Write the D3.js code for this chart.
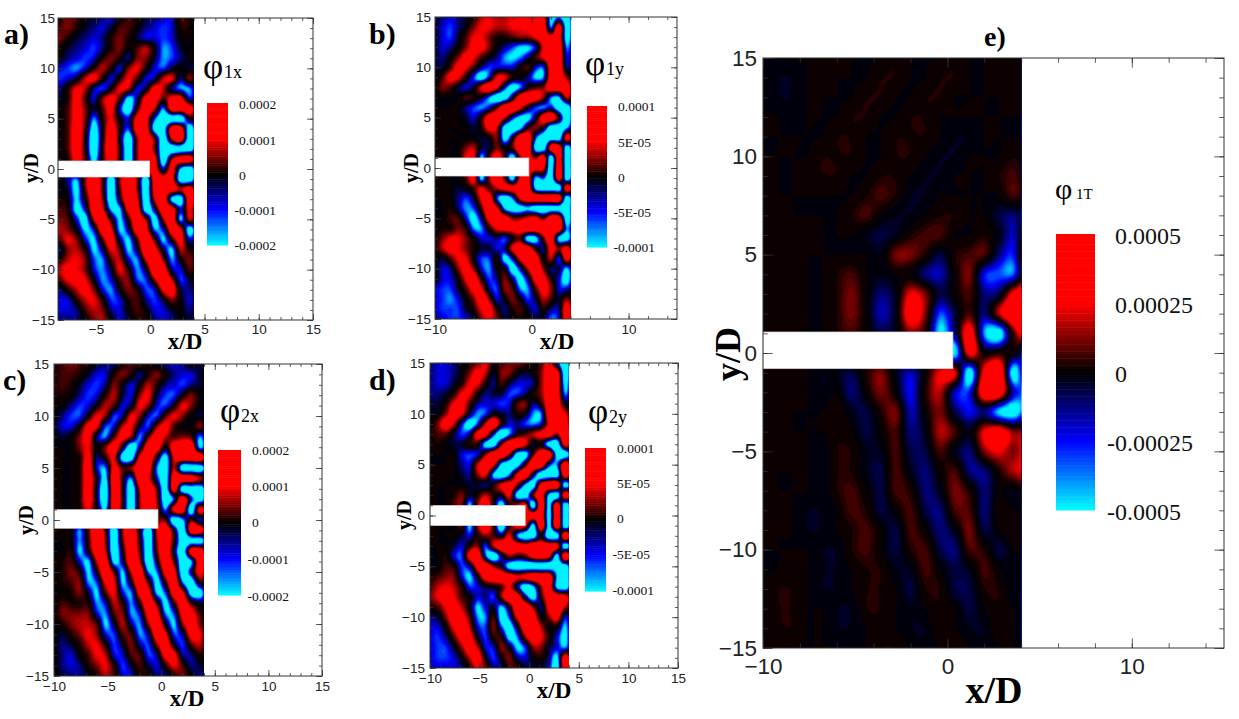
<!DOCTYPE html>
<html><head><meta charset="utf-8">
<script src="https://cdn.jsdelivr.net/npm/d3@7"></script>
<style>html,body{margin:0;background:#fff}svg{display:block}</style></head>
<body><svg id="c" width="1239" height="719"></svg>
<script>
const xCols=[-10,-9.2,-8.4,-7.6,-6.8,-6,-5.2,-4.4,-3.6,-2.8,-2,-1.2,-.4,.4,1.2,2,2.8,3.6,4.4];
const yRows=d3.range(15,-16,-1);
const phi1x=[
[0,0,1,3,2,0,-1,-2,-3,0,2,1,-1,-2,-3,-3,2,1,0],
[0,1,2,3,1,-1,-2,-3,-1,2,2,0,-2,-3,-4,-3,1,1,0],
[1,2,3,1,-1,-2,-3,-2,1,3,1,-1,-3,-3,-4,-3,0,0,0],
[2,2,1,-1,-2,-3,-4,-2,1,3,0,2,4,0,-5,-4,-1,0,0],
[1,1,0,-2,-3,-4,-3,1,3,1,-2,3,3,-1,-5,-4,-2,0,0],
[0,-1,-3,-4,-5,-3,1,4,1,-3,3,5,1,-3,-4,-1,0,-1,0],
[-3,-4,-4,-3,-1,4,6,1,-3,1,5,2,-3,-2,4,5,-2,3,0],
[-1,-2,-2,1,5,4,-2,-4,0,5,4,-3,-1,6,4,-2,-5,-5,0],
[0,-1,-1,1,6,2,-3,3,6,2,-7,-2,6,7,2,6,6,-3,0],
[0,0,0,2,6,3,-1,2,6,-3,-9,1,7,4,-5,7,7,7,0],
[0,0,0,2,6,3,-5,1,5,0,-3,6,6,-4,-10,-10,-10,0,0],
[0,0,0,2,7,2,-8,0,7,1,-4,7,7,-8,-10,7,7,-9,0],
[0,0,0,2,7,1,-10,0,8,0,-10,3,8,2,-10,4,8,-10,0],
[0,0,0,2,7,1,-10,1,8,1,-10,3,8,2,-10,-10,-10,-10,0],
[0,0,0,1,6,2,-7,1,7,1,-10,3,8,6,-10,3,7,7,0],
[0,0,0,1,5,2,-4,1,6,1,-10,3,8,7,-3,6,-6,-10,0],
[0,0,0,-2,-5,3,7,2,-9,3,8,3,-10,7,7,6,-10,-10,0],
[0,0,0,-1,-7,2,8,2,-10,2,8,3,-10,6,8,7,4,7,0],
[0,0,1,0,-6,0,7,3,-10,0,8,5,-10,4,8,-7,-10,7,0],
[0,1,2,1,-7,-3,7,5,-6,-6,6,7,-9,-2,8,7,-3,5,0],
[0,2,3,2,-3,-8,4,8,1,-6,1,8,3,-8,3,8,-6,4,0],
[0,3,4,3,0,-6,-3,7,5,-6,-2,7,6,-5,-3,7,5,-8,0],
[0,2,2,5,3,-3,-6,2,7,-2,-6,2,8,2,-6,1,6,-3,0],
[0,0,-2,3,4,1,-6,-2,5,2,-6,-1,8,6,-1,-6,4,1,0],
[0,1,1,4,5,3,-4,-5,2,4,-3,-5,4,8,3,-5,0,3,0],
[0,2,4,6,5,3,-3,-5,-1,5,1,-5,-1,8,7,-2,-3,2,0],
[0,1,2,5,6,5,0,-5,-3,2,3,-4,-4,3,8,4,-4,-1,0],
[0,-1,-2,1,4,6,3,-3,-5,0,3,1,-4,-3,5,7,-1,-2,0],
[0,-2,-3,-3,1,4,5,1,-4,-3,1,2,-2,-4,-1,3,0,-3,0],
[0,-2,-3,-3,-2,2,4,3,-2,-3,0,2,0,-3,-3,-1,0,-2,0],
[0,-1,-2,-2,-2,0,3,4,0,-3,-1,1,1,-2,-3,-2,0,-1,0]];
const phi1y=[
[-1,-2,-3,-2,-1,1,4,5,4,4,5,6,7,6,6,-7,-5,-9,0],
[-1,-3,-4,-2,0,3,5,5,4,4,5,5,6,6,7,-5,7,-9,0],
[-1,-3,-4,-1,2,5,5,3,1,1,2,3,3,5,7,6,7,-8,0],
[-1,-3,-2,0,3,6,6,3,0,-2,-4,-6,-6,-3,5,8,8,-5,0],
[-1,-2,0,3,6,5,2,0,-2,-5,-6,-5,-2,2,5,8,8,-3,0],
[-1,-1,2,6,5,2,-2,-4,-3,-3,-3,0,2,-3,-4,7,8,-2,0],
[0,2,6,5,1,-4,-8,-3,5,5,1,0,-2,-6,-5,7,8,3,0],
[0,3,2,-1,-3,-1,5,8,5,-3,-8,-5,0,2,3,8,8,7,0],
[0,0,0,0,2,1,-1,-5,-10,-9,-1,7,8,7,3,-5,-6,4,0],
[0,0,0,0,-2,-4,-5,-3,2,8,8,5,0,-4,-5,-3,-9,-10,0],
[0,0,0,0,-1,-3,1,7,8,4,-3,-7,-7,-1,7,8,1,-10,0],
[0,0,0,0,0,-1,1,6,4,-8,-10,-7,1,3,0,-10,-10,-6,0],
[0,0,0,0,0,0,-1,0,3,-8,-1,8,8,-4,-10,-9,-10,6,0],
[0,0,0,0,3,4,-1,-1,3,0,2,8,8,-8,-10,7,8,-9,0],
[0,0,0,0,5,5,-6,2,7,1,-9,3,6,3,7,-10,7,-10,0],
[0,0,0,0,4,3,-3,1,5,1,-5,3,6,6,5,-10,8,-10,0],
[0,0,0,0,2,6,-7,3,8,2,-8,5,6,-6,-4,-10,7,-9,0],
[0,0,0,-1,0,2,5,2,4,6,6,7,7,-7,-10,-10,-10,7,0],
[0,0,0,-2,-4,-1,5,7,-4,-9,-5,5,8,8,8,8,8,-9,0],
[0,0,1,-2,-5,-4,2,8,5,-6,-9,-8,-6,-9,-10,-9,-9,-10,0],
[0,0,2,2,-3,-7,-2,6,8,7,3,3,5,6,2,8,7,-9,0],
[0,1,1,3,1,-5,-5,1,5,6,6,7,8,8,8,8,8,-5,0],
[1,3,5,5,3,0,-3,-3,-2,-4,0,2,-8,-7,2,7,-7,-8,0],
[1,4,6,5,3,1,-1,-1,-3,-2,5,8,7,1,-2,6,3,6,0],
[0,-1,2,5,5,0,-4,-4,1,-7,-3,5,8,7,0,4,-4,6,0],
[0,-3,-2,3,6,3,-3,-5,0,0,-8,-3,4,8,3,-2,-1,-6,0],
[0,-3,-3,0,5,7,1,-4,-2,3,-2,-7,-2,6,6,1,-3,-8,0],
[-3,-4,-4,-1,2,6,5,-2,-4,3,2,-5,-5,2,6,3,-3,-3,0],
[-3,-4,-5,-3,0,3,7,3,-3,0,3,0,-4,-1,4,2,-1,3,0],
[-3,-4,-4,-4,-1,1,5,6,1,-2,1,2,-1,-3,1,-2,-2,7,0],
[-2,-3,-4,-4,-3,-1,3,5,3,-1,0,1,0,-1,-1,-5,-3,7,0]];
const phi2x=[
[1,2,3,2,1,-1,-2,-2,1,2,2,1,-1,-2,-3,-2,0,-1,0],
[1,2,2,1,-1,-3,-3,1,3,1,-2,1,3,0,-2,-3,-3,-1,0],
[1,2,1,-1,-3,-4,-2,3,0,-3,0,4,1,-2,-3,-4,-2,-1,0],
[1,1,0,-2,-4,-3,1,4,-1,-3,3,5,-1,-4,-4,0,3,0,0],
[0,0,-2,-4,-3,0,4,2,-3,-1,5,3,-3,-4,0,5,3,0,0],
[0,-2,-4,-4,0,5,3,-4,-2,5,3,-3,-4,2,5,3,0,-1,0],
[-1,-3,-3,0,6,5,-4,-3,4,5,-1,-4,3,6,2,0,0,3,0],
[0,-1,0,3,6,-2,-5,2,6,3,-5,2,7,4,2,3,2,-5,0],
[0,0,0,3,5,0,3,7,0,-10,-2,7,7,0,7,8,8,-6,0],
[0,0,0,1,6,-2,1,5,-8,-9,5,8,0,-8,5,8,8,8,0],
[0,0,0,1,7,-3,-5,6,2,3,8,7,-5,-10,4,-10,-10,-10,0],
[0,0,0,1,7,0,-7,8,1,-5,8,5,-3,-10,8,8,7,4,0],
[0,0,0,1,7,-1,-10,8,1,-10,4,8,2,-10,7,-10,-10,-10,0],
[0,0,0,1,7,-1,-10,8,1,-10,3,8,3,-10,-4,8,-3,-9,0],
[0,0,0,1,5,0,-6,7,1,-10,3,8,4,-5,6,7,-10,6,0],
[0,0,0,0,3,0,-4,6,1,-7,3,7,3,2,-10,-6,2,-3,0],
[0,0,0,-5,2,8,2,-10,3,8,0,-10,4,8,0,-10,7,7,0],
[0,0,0,-5,1,8,3,-10,2,8,1,-10,3,8,1,-10,-9,-9,0],
[0,0,1,-6,0,7,4,-10,0,8,2,-10,2,8,-1,-10,7,8,0],
[0,1,2,-3,-6,4,7,-7,-2,8,4,-10,-1,8,2,-10,-6,7,0],
[0,1,3,1,-6,0,8,2,-6,4,8,-5,-5,6,6,-10,-2,6,0],
[0,1,2,3,-5,-4,5,5,-6,0,8,2,-7,1,8,-5,-9,1,0],
[0,0,1,3,-1,-6,2,5,-3,-5,6,6,-6,-4,7,5,-8,-8,0],
[0,2,1,1,1,-5,-3,4,1,-5,1,8,2,-7,1,7,2,-1,0],
[0,3,3,3,3,-3,-5,2,3,-5,-3,6,6,-5,-4,6,6,2,0],
[0,1,3,4,4,2,-6,-1,4,-2,-5,3,8,0,-6,3,7,3,0],
[0,-1,1,3,5,3,-3,-4,2,2,-5,-2,7,5,-4,-2,6,5,0],
[0,-2,-1,1,4,5,1,-4,-1,3,-2,-4,3,7,0,-4,2,4,0],
[0,-2,-3,0,2,5,4,-3,-3,2,2,-4,-2,6,6,-2,-2,1,0],
[0,-2,-3,-2,1,3,5,1,-4,-1,2,-1,-3,1,5,2,-2,-1,0],
[0,-1,-2,-2,-1,1,4,2,-3,-3,1,1,-2,-2,1,3,0,-2,0]];
const phi2y=[
[-2,-3,-3,-2,0,1,3,5,1,2,3,3,2,0,2,6,-3,-10,0],
[-2,-3,-3,-2,0,3,6,4,-1,3,3,0,-1,0,3,7,7,-9,0],
[-2,-3,-3,-1,1,5,5,1,-2,2,-1,-3,-3,-2,3,7,7,-7,0],
[-2,-2,-1,1,5,5,1,-2,-1,-1,-4,-4,-2,1,3,7,7,-5,0],
[-1,-1,1,5,6,2,-2,-3,-3,-4,-3,2,3,-2,1,7,7,0,0],
[-1,0,3,7,5,-1,-5,-4,0,-1,-2,1,0,-5,-5,7,7,5,0],
[0,3,7,4,-3,-8,-4,4,8,1,-3,-2,-4,-5,-3,5,8,7,0],
[1,2,2,-1,-4,-2,6,6,-3,-10,-5,0,2,4,6,7,3,8,0],
[0,1,0,-1,-1,1,1,-7,-9,2,8,8,5,-1,0,-8,-10,6,0],
[0,0,0,0,-3,-4,-3,3,8,8,3,-8,-8,2,8,8,-8,-10,0],
[0,0,0,0,-2,-3,4,8,5,-7,-10,-8,1,8,8,-3,-5,8,0],
[0,0,0,0,-1,-2,3,5,-6,-10,-5,5,8,-1,-10,-10,-9,7,0],
[0,0,0,0,0,-1,-1,-2,1,5,7,3,-6,-9,6,8,8,-8,0],
[0,0,0,1,3,-1,1,4,1,0,5,-8,-10,2,7,-7,-10,7,0],
[0,0,0,2,3,-6,3,8,0,-8,1,4,6,-10,8,-8,8,-10,0],
[0,0,0,1,3,-3,3,6,0,-5,1,4,7,7,8,-9,8,-10,0],
[0,0,0,0,2,-6,3,8,1,-10,1,6,5,-8,8,-8,8,-10,0],
[0,0,0,0,-1,-3,1,3,2,-1,5,-5,-10,-9,0,-10,-9,8,0],
[0,0,0,-1,-3,1,3,-4,4,8,8,7,6,8,8,7,6,-9,0],
[0,0,1,-3,-4,6,8,-4,-10,-2,3,1,2,6,7,5,-8,8,0],
[0,0,2,1,-4,-2,6,8,3,0,-8,-10,-10,-10,-10,-10,-7,-9,0],
[1,2,3,3,-3,-6,0,7,8,8,7,5,6,8,8,8,-6,-10,0],
[2,4,5,4,1,-4,-3,-1,0,2,5,-2,-9,-6,3,7,-7,-10,0],
[3,5,6,5,2,0,-3,-2,-4,3,8,7,-2,-8,1,7,7,6,0],
[1,2,5,6,4,0,-6,-3,-1,-6,0,8,8,3,-2,6,8,4,0],
[-2,-1,3,7,6,2,-5,-5,2,-8,-4,5,8,7,0,3,6,-3,0],
[-3,-3,0,5,7,4,-3,-4,3,-4,-8,-1,7,8,4,0,0,-6,0],
[-3,-4,-2,2,6,6,0,-4,1,1,-7,-5,3,7,5,1,-3,-7,0],
[-3,-4,-4,-1,3,7,4,-3,-3,3,0,-6,-4,3,3,-1,-3,-5,0],
[-3,-4,-4,-3,0,4,7,0,-4,0,3,-2,-3,0,1,-2,-7,7,0],
[-3,-3,-3,-3,-2,1,5,3,-2,-2,2,2,-1,-1,-1,-3,-9,7,0]];
const phi1T=[
[0,-1,0,0,0,0,0,0,0,1,0,0,0,1,0,0,0,0,0],
[0,-1,-1,0,0,0,0,0,1,1,0,0,1,1,0,0,0,0,0],
[0,-1,-1,0,0,0,0,1,1,0,0,1,1,0,0,0,0,0,0],
[0,0,-1,0,0,0,1,1,0,0,1,1,0,0,0,0,0,0,0],
[0,0,0,0,0,1,1,0,0,1,1,1,0,-1,-1,0,0,0,0],
[0,0,0,0,1,1,1,0,0,1,1,0,-1,-1,0,0,0,1,0],
[0,0,0,1,1,1,0,0,1,1,0,-1,-1,0,0,0,1,2,0],
[0,0,0,0,0,0,0,1,2,1,-1,-1,0,0,0,0,0,2,0],
[0,0,0,0,0,0,1,2,0,-1,-1,0,1,1,0,0,-2,-3,0],
[0,0,0,0,0,0,0,-1,-2,-1,1,2,2,0,0,1,-1,-4,3],
[0,0,0,0,0,0,0,0,-1,3,3,1,-2,1,2,2,-3,-5,7],
[0,0,0,0,0,1,2,0,-1,0,0,-3,-4,0,3,-5,-6,-6,5],
[0,0,0,0,0,1,3,0,-3,-1,5,3,-2,0,2,-3,-2,6,8],
[0,0,0,0,0,1,3,0,-4,-1,7,3,-6,-2,2,-3,4,9,8],
[0,0,0,0,0,1,2,0,-2,-1,3,1,-8,-3,7,-7,-10,2,8],
[0,0,0,0,0,1,2,0,-1,-1,2,1,-3,-9,6,0,1,0,-4],
[0,0,0,0,-1,-1,-2,1,3,-1,-4,0,5,5,-10,6,9,-10,3],
[0,0,0,0,-1,0,-3,0,3,0,-5,1,4,-4,-5,8,8,-4,-6],
[0,0,0,0,0,1,-1,-2,1,3,-4,0,3,-2,-5,-3,-8,-10,-3],
[0,0,0,0,0,1,0,-2,0,2,-3,-1,4,2,-1,5,7,3,4],
[0,0,0,0,-1,1,1,-1,-1,2,-2,-2,2,-1,-3,3,5,3,6],
[0,0,0,0,-1,1,1,-1,-2,2,-1,-3,0,2,-3,-3,1,4,5],
[0,0,0,0,-1,1,2,0,-2,2,1,-3,-1,3,1,-3,0,-1,3],
[0,0,0,-1,-1,0,2,1,-2,0,2,-2,-3,2,2,-3,1,0,0],
[0,0,0,-1,-1,0,1,2,0,-2,2,0,-3,-1,3,-2,0,1,0],
[0,0,0,0,-1,-1,1,2,0,-2,1,2,-2,-3,2,1,-2,0,0],
[0,0,1,0,-1,-1,0,1,1,-1,-1,2,0,-2,-1,2,0,-1,0],
[0,1,1,0,-1,-1,0,1,1,0,-2,1,1,-2,-2,1,1,-1,0],
[0,1,1,0,0,-1,-1,1,1,0,-1,0,1,0,-2,0,1,0,0],
[1,1,1,0,0,-1,-1,0,1,0,-1,-1,1,0,-1,-1,1,0,0],
[1,1,0,0,0,0,-1,0,1,1,0,-1,0,1,0,-1,0,0,0]];
const legendA=["0.0002","0.0001","0","-0.0001","-0.0002"];
const legendB=["0.0001","5E-05","0","-5E-05","-0.0001"];
const legendE=["0.0005","0.00025","0","-0.00025","-0.0005"];

const color=d3.scaleLinear().domain([-10,-5,0,5,10]).range(["#00ffff","#0000ff","#000000","#ff0000","#ff0000"]).clamp(true);
const svg=d3.select("#c");
const defs=svg.append("defs");
const SERIF="'Liberation Serif',serif", SANS="'Liberation Sans',sans-serif";

function cubic(a,b,c,d,t){return b+.5*t*(c-a+t*(2*a-5*b+4*c-d+t*(3*(b-c)+d-a)));}
// readings were taken by eye: re-expand them; the cool side of a-d was read too weak
const warmTone=v=>10*Math.pow(v/8,1.5);
const coolTone=v=>10*Math.pow(v/6,1.3);
function upsample(g,k,cool){
  const R=g.length,C=g[0].length,w=(C-1)*k+1,h=(R-1)*k+1,out=new Float64Array(w*h);
  const at=(r,c)=>g[Math.max(0,Math.min(R-1,r))][Math.max(0,Math.min(C-1,c))];
  for(let j=0;j<h;j++){const r=Math.floor(j/k),tr=j/k-r;
    for(let i=0;i<w;i++){const c=Math.floor(i/k),tc=i/k-c;
      const row=q=>cubic(at(q,c-1),at(q,c),at(q,c+1),at(q,c+2),tc);
      const v=cubic(row(r-1),row(r),row(r+1),row(r+2),tr);
      const m=v>=0?warmTone(v):-(cool?coolTone(-v):warmTone(-v));
      out[j*w+i]=Math.max(-10,Math.min(10,m));}}
  return {w,h,out};
}
const thresholds=d3.range(-10,10.01,.5);

const panels=[
{id:"a",data:phi1x,cool:true,xMin:-8.5,box:[58,313,18,320],barEnd:-.05,barY:[.8,-.8],xMaj:[-5,0,5,10,15],xMin2:1,yAxisPad:3,xPad:4,
 fs:13.5,tag:[4,44,30],xT:[185,349,23],yT:[32,168,20],leg:[207,228,103,245],legL:legendA,legX:239,legFs:13.5,legY:[105,141,176,211,246],phi:[203,78,35,224,18,"1x"]},
{id:"b",data:phi1y,cool:true,xMin:-10,box:[435,677,17,319],barEnd:-.3,barY:[1,-.8],xMaj:[-10,0,10],xMin2:2,yAxisPad:4,xPad:5,
 fs:13.5,tag:[369,44,30],xT:[557,349,23],yT:[412,168,20],leg:[587,607,106,247],legL:legendB,legX:618,legFs:13.5,legY:[107,143,178,213,248],phi:[585,75,35,606,18,"1y"]},
{id:"c",data:phi2x,cool:true,xMin:-10,box:[54,322,364,676],barEnd:-.3,barY:[1,-.8],xMaj:[-10,-5,0,5,10,15],xMin2:1,yAxisPad:5,xPad:5,
 fs:13.5,tag:[3,390,30],xT:[187,706,23],yT:[27,520,20],leg:[218,241,450,595],legL:legendA,legX:252,legFs:13.5,legY:[451,487,523,560,597],phi:[220,422,35,241,18,"2x"]},
{id:"d",data:phi2y,cool:true,xMin:-10,box:[430,678,363,668],barEnd:-.4,barY:[1,-1],xMaj:[-10,-5,0,5,10,15],xMin2:1,yAxisPad:5,xPad:5,
 fs:13.5,tag:[369,390,30],xT:[554,698,23],yT:[405,515,20],leg:[585,606,448,591],legL:legendB,legX:617,legFs:13.5,legY:[449,484,519,555,591],phi:[588,423,35,609,18,"2y"]},
{id:"e",data:phi1T,cool:false,xMin:-10,box:[763,1224,58,648],barEnd:.3,barY:[1.07,-.8],xMaj:[-10,0,10],xMin2:2,yAxisPad:6,xPad:10,
 fs:22.5,tag:[984,46,28],xT:[994,703,38],yT:[729,354,36],leg:[1056,1095,234,510],legL:legendE,legX:1115,legFs:24,legY:[236,305,374,443,512],phi:[1055,199,30,1076,15,"1T"]}
];

panels.forEach(p=>{
  const [L,R,T,B]=p.box;
  const x=d3.scaleLinear().domain([p.xMin,15]).range([L,R]);
  const y=d3.scaleLinear().domain([-15,15]).range([B,T]);
  const g=svg.append("g").attr("id","panel-"+p.id);
  const clipId="clip-"+p.id;
  defs.append("clipPath").attr("id",clipId).append("rect")
    .attr("x",x(p.xMin)).attr("y",T).attr("width",x(4)-x(p.xMin)).attr("height",B-T);
  const k=5,u=upsample(p.data,k,p.cool);
  const gx=d3.scaleLinear().domain([0,u.w-1]).range([xCols[0],xCols[xCols.length-1]]);
  const gy=d3.scaleLinear().domain([0,u.h-1]).range([yRows[0],yRows[yRows.length-1]]);
  const proj=d3.geoTransform({point(px,py){
    const i=Math.max(0,Math.min(u.w-1,px-.5)),j=Math.max(0,Math.min(u.h-1,py-.5));
    this.stream.point(x(gx(i)),y(gy(j)));}});
  const path=d3.geoPath(proj);
  const field=g.append("g").attr("clip-path",`url(#${clipId})`);
  field.append("rect").attr("x",x(p.xMin)).attr("y",T).attr("width",x(4)-x(p.xMin)).attr("height",B-T).attr("fill",color(-10));
  const cs=d3.contours().size([u.w,u.h]).thresholds(thresholds)(u.out);
  field.selectAll("path").data(cs).join("path").attr("d",path)
    .attr("fill",d=>color(d.value+.25)).attr("stroke",d=>color(d.value+.25)).attr("stroke-width",.3);
  g.append("rect").attr("x",x(p.xMin)).attr("y",y(p.barY[0])).attr("width",x(p.barEnd)-x(p.xMin))
    .attr("height",y(p.barY[1])-y(p.barY[0])).attr("fill","#fff").attr("stroke","#ccc").attr("stroke-width",.6);
  const range=(a,b,s)=>d3.range(a,b+1e-6,s);
  const yMaj=range(-15,15,5), yMin=range(-15,15,1);
  const xMinT=range(Math.ceil(p.xMin/p.xMin2)*p.xMin2,15,p.xMin2);
  const big=p.id==="e"?1.6:1;
  const style=s=>{s.selectAll("line").attr("stroke","#333").attr("stroke-width",.8);s.select(".domain").remove();
    s.selectAll("text").attr("font-family",SANS).attr("font-size",p.fs).attr("fill","#222");};
  const none=()=>"";
  const add=(ax,tx,ty)=>g.append("g").attr("transform",`translate(${tx},${ty})`).call(ax).call(style);
  add(d3.axisBottom(x).tickValues(xMinT).tickSize(-3*big).tickFormat(none),0,B);
  add(d3.axisTop(x).tickValues(xMinT).tickSize(-3*big).tickFormat(none),0,T);
  add(d3.axisRight(y).tickValues(yMin).tickSize(-3*big).tickFormat(none),R,0);
  add(d3.axisLeft(y).tickValues(yMin).tickSize(-3*big).tickFormat(none),L,0);
  add(d3.axisBottom(x).tickValues(p.xMaj).tickSize(-6*big).tickPadding(p.xPad).tickFormat(d3.format("d")),0,B);
  add(d3.axisTop(x).tickValues(p.xMaj).tickSize(-6*big).tickFormat(none),0,T);
  add(d3.axisRight(y).tickValues(yMaj).tickSize(-6*big).tickFormat(none),R,0);
  add(d3.axisLeft(y).tickValues(yMaj).tickSize(-6*big).tickPadding(p.yAxisPad).tickFormat(d3.format("d")),L,0);
  g.append("rect").attr("x",L).attr("y",T).attr("width",R-L).attr("height",B-T).attr("fill","none").attr("stroke","#333").attr("stroke-width",1);
  g.append("text").text(p.id+")").attr("x",p.tag[0]).attr("y",p.tag[1]).attr("font-family",SERIF).attr("font-weight","bold").attr("font-size",p.tag[2]);
  g.append("text").text("x/D").attr("x",p.xT[0]).attr("y",p.xT[1]).attr("text-anchor","middle").attr("font-family",SERIF).attr("font-weight","bold").attr("font-size",p.xT[2]);
  g.append("text").text("y/D").attr("transform",`translate(${p.yT[0]},${p.yT[1]}) rotate(-90)`).attr("text-anchor","middle").attr("dy",".3em").attr("font-family",SERIF).attr("font-weight","bold").attr("font-size",p.yT[2]);
  const [lL,lR,lT,lB]=p.leg;
  const ly=d3.scaleLinear().domain([-10,10]).range([lB,lT]);
  const steps=d3.range(-10,10,.25);
  g.append("g").selectAll("rect").data(steps).join("rect").attr("x",lL).attr("width",lR-lL)
    .attr("y",d=>ly(d+.25)).attr("height",d=>ly(d)-ly(d+.25)+.5).attr("fill",d=>color(d+.125));
  const neg=p.id==="e"?8:4.5;
  p.legL.forEach((t,i)=>g.append("text").text(t).attr("x",p.legX-(t[0]==="-"?neg:0)).attr("y",p.legY[i]).attr("dy",".33em")
    .attr("font-family",SERIF).attr("font-size",p.legFs).attr("fill","#111"));
  const ph=p.phi;
  g.append("text").text("φ").attr("x",ph[0]).attr("y",ph[1]).attr("font-family",SERIF).attr("font-size",ph[2]);
  g.append("text").text(ph[5]).attr("x",ph[3]).attr("y",ph[1]).attr("font-family",SERIF).attr("font-size",ph[4]);
});
</script></body></html>
